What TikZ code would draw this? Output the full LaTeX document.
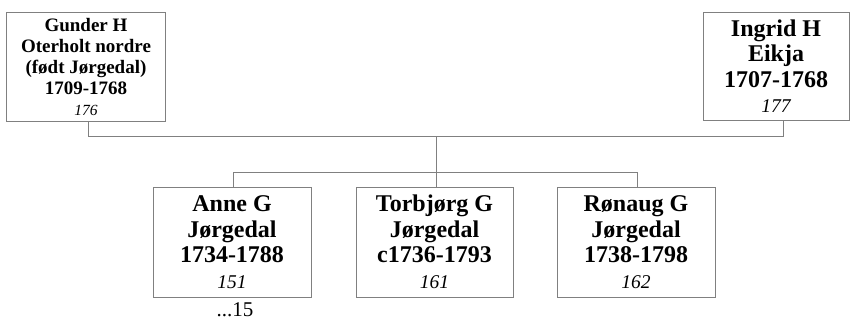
\documentclass[tikz,border=0pt]{standalone}
\usepackage{fontspec}
\setmainfont{Liberation Serif}
\begin{document}
\begin{tikzpicture}[x=1bp,y=-1bp,
  person/.style={draw=black!50,line width=1bp,fill=white,inner sep=0pt,align=center},
  link/.style={draw=black!50,line width=1bp},
  big/.style={font=\fontsize{24bp}{25.5bp}\selectfont\bfseries},
  small/.style={font=\fontsize{19bp}{21bp}\selectfont\bfseries}]
\useasboundingbox (0,0) rectangle (850,320);
\node[person,small,minimum width=158bp,minimum height=109bp] (gunder) at (86,66.5)
  {Gunder H\\Oterholt nordre\\(født Jørgedal)\\1709-1768\\{\fontsize{15.5bp}{17bp}\selectfont\mdseries\itshape 176}};
\node[person,big,minimum width=146bp,minimum height=108bp] (ingrid) at (776,66)
  {Ingrid H\\Eikja\\1707-1768\\{\fontsize{19.5bp}{21bp}\selectfont\mdseries\itshape 177}};
\node[person,big,minimum width=158bp,minimum height=110bp] (anne) at (232,242)
  {Anne G\\Jørgedal\\1734-1788\\{\fontsize{19.5bp}{21bp}\selectfont\mdseries\itshape 151}};
\node[person,big,minimum width=157bp,minimum height=110bp] (torbjorg) at (434.5,242)
  {Torbjørg G\\Jørgedal\\c1736-1793\\{\fontsize{19.5bp}{21bp}\selectfont\mdseries\itshape 161}};
\node[person,big,minimum width=158bp,minimum height=110bp] (ronaug) at (636,242)
  {Rønaug G\\Jørgedal\\1738-1798\\{\fontsize{19.5bp}{21bp}\selectfont\mdseries\itshape 162}};
\node[font=\fontsize{21bp}{22bp}\selectfont,anchor=base,inner sep=0pt] (more) at (235,316.5) {...15};
\coordinate (pl) at (88,136.5);
\coordinate (pr) at (783,136.5);
\coordinate (pm) at (436,136.5);
\coordinate (cl) at (233,172);
\coordinate (cr) at (637,172);
\draw[link] (pl |- gunder.south) -- (pl) -- (pr) -- (pr |- ingrid.south);
\draw[link] (pm) -- (pm |- torbjorg.north);
\draw[link] (cl |- anne.north) -- (cl) -- (cr) -- (cr |- ronaug.north);
\end{tikzpicture}
\end{document}
